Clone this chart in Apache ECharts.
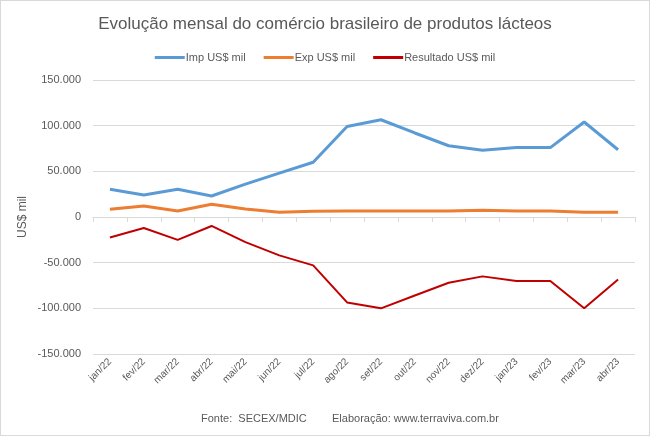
<!DOCTYPE html>
<html>
<head>
<meta charset="utf-8">
<script src="https://cdn.jsdelivr.net/npm/echarts@6/dist/echarts.min.js"></script>
<style>
  html, body { margin: 0; padding: 0; background: #fff; }
  #chart { width: 650px; height: 436px; box-sizing: border-box; border: 1px solid #d9d9d9; }
</style>
</head>
<body>
<div id="chart"></div>
<script>
var months = ['jan/22', 'fev/22', 'mar/22', 'abr/22', 'mai/22', 'jun/22', 'jul/22', 'ago/22',
  'set/22', 'out/22', 'nov/22', 'dez/22', 'jan/23', 'fev/23', 'mar/23', 'abr/23'];
var imp = [30400, 24000, 30300, 23000, 36000, 48000, 60000, 99000,
  106500, 92000, 78000, 73000, 76000, 76000, 104000, 73600];
var exp = [8400, 12000, 6500, 14000, 8800, 5200, 6200, 6500,
  6500, 6500, 6500, 7500, 6500, 6500, 5200, 5200];
var resultado = [-22500, -12000, -25000, -9800, -27500, -42000, -53000, -93500,
  -100000, -86000, -72000, -65000, -70000, -70000, -100000, -68500];

var gray = '#595959';
var font = 'Liberation Sans';

var myChart = echarts.init(document.getElementById('chart'));
var option = {
  backgroundColor: '#ffffff',
  animation: false,
  textStyle: { fontFamily: font },
  title: {
    text: 'Evolução mensal do comércio brasileiro de produtos lácteos',
    left: 'center',
    top: 10,
    textStyle: { color: gray, fontSize: 17, fontWeight: 'normal', fontFamily: font }
  },
  legend: {
    top: 46,
    left: 'center',
    itemWidth: 30,
    itemHeight: 3,
    itemGap: 18,
    icon: 'rect',
    textStyle: { color: gray, fontSize: 11, padding: [0, 0, 0, -4] },
    data: ['Imp US$ mil', 'Exp US$ mil', 'Resultado US$ mil']
  },
  graphic: [
    {
      type: 'text',
      left: 200,
      top: 412,
      style: { text: 'Fonte:  SECEX/MDIC', fill: gray, fontSize: 11, fontFamily: font }
    },
    {
      type: 'text',
      left: 331,
      top: 412,
      style: { text: 'Elaboração: www.terraviva.com.br', fill: gray, fontSize: 11, fontFamily: font }
    }
  ],
  grid: { left: 92, right: 14, top: 79, bottom: 81 },
  xAxis: [
    {
      type: 'category',
      data: months,
      position: 'bottom',
      axisLine: { show: false, onZero: false },
      axisTick: { show: false },
      axisLabel: { color: gray, fontSize: 10, rotate: 45, interval: 0, margin: 6 }
    },
    {
      type: 'category',
      data: months,
      position: 'bottom',
      axisLine: { show: true, onZero: true, lineStyle: { color: '#d9d9d9', width: 1 } },
      axisTick: { show: true, length: 5, interval: 0, lineStyle: { color: '#d9d9d9' } },
      axisLabel: { show: false }
    }
  ],
  yAxis: {
    type: 'value',
    min: -150000,
    max: 150000,
    interval: 50000,
    name: 'US$ mil',
    nameLocation: 'middle',
    nameGap: 64,
    nameMoveOverlap: false,
    nameTextStyle: { color: gray, fontSize: 12 },
    axisLine: { show: false },
    axisTick: { show: false },
    splitLine: { lineStyle: { color: '#d9d9d9', width: 1 } },
    axisLabel: {
      color: gray,
      fontSize: 11,
      margin: 12,
      formatter: function (v) {
        var s = Math.abs(v).toString().replace(/\B(?=(\d{3})+(?!\d))/g, '.');
        return v < 0 ? '-' + s : s;
      }
    }
  },
  series: [
    {
      name: 'Imp US$ mil',
      type: 'line',
      data: imp,
      symbol: 'none',
      itemStyle: { color: '#5b9bd5' },
      lineStyle: { color: '#5b9bd5', width: 3 }
    },
    {
      name: 'Exp US$ mil',
      type: 'line',
      data: exp,
      symbol: 'none',
      itemStyle: { color: '#ed7d31' },
      lineStyle: { color: '#ed7d31', width: 3 }
    },
    {
      name: 'Resultado US$ mil',
      type: 'line',
      data: resultado,
      symbol: 'none',
      itemStyle: { color: '#c00000' },
      lineStyle: { color: '#c00000', width: 2 }
    }
  ]
};
myChart.setOption(option);
</script>
</body>
</html>
